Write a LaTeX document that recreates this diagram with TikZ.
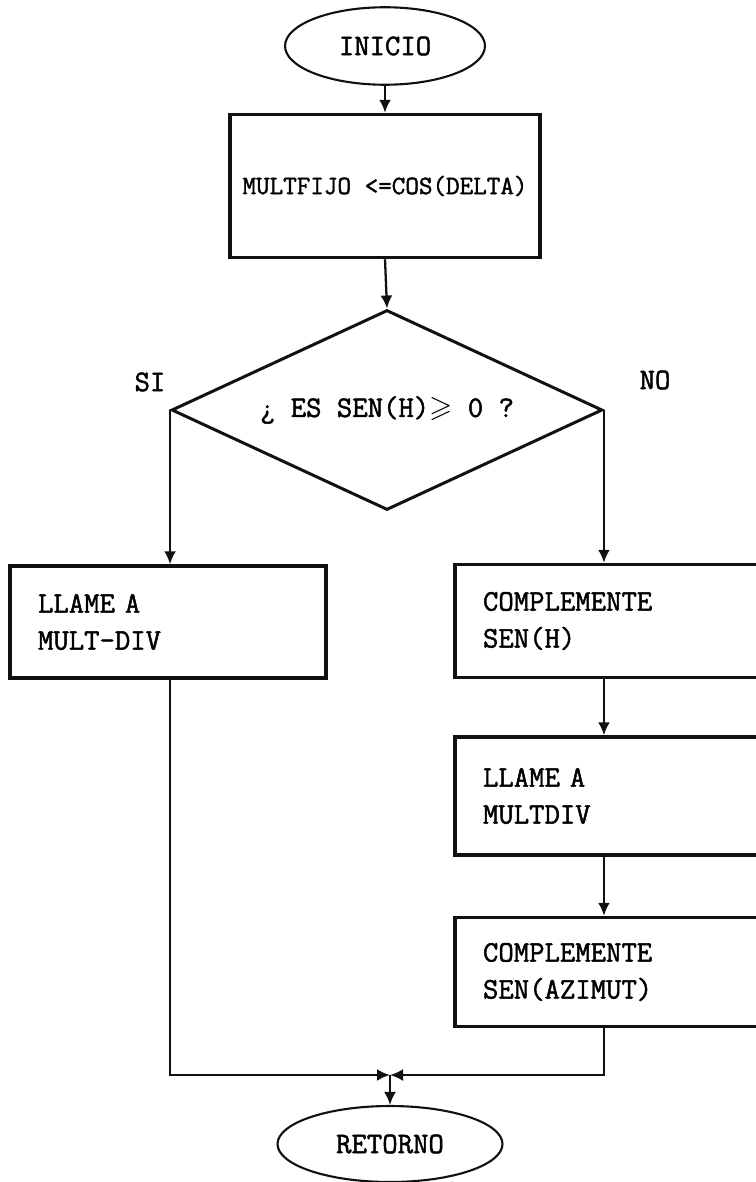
\documentclass[tikz,border=0pt]{standalone}
\usepackage{amssymb}
\usepackage{fontspec}
\setmonofont{Latin Modern Mono}[AutoFakeBold=1.6]
\usetikzlibrary{arrows.meta, shapes.geometric}
\definecolor{inkline}{HTML}{111111}
\newcommand{\tipo}[1]{\ttfamily\bfseries\fontsize{#1}{21}\selectfont}
\tikzset{
  terminal/.style={ellipse, draw=inkline, line width=1.2pt, minimum width=4cm, minimum height=1.55cm, font=\tipo{17}},
  proceso/.style={rectangle, draw=inkline, line width=2pt, align=left, inner xsep=0.56cm, font=\tipo{17}},
  decision/.style={diamond, aspect=2.155, draw=inkline, line width=1.7pt, minimum width=8.62cm, minimum height=4cm, inner sep=0pt, font=\tipo{17}},
  flow/.style={-{Latex[length=2.6mm, width=2.4mm]}, line width=1.3pt, draw=inkline},
  rama/.style={font=\tipo{17}}
}

\begin{document}
\begin{tikzpicture}[x=0.02cm, y=-0.02cm]
\useasboundingbox (0,0) rectangle (755,1182);

\node[terminal] (inicio) at (385,46) {INICIO};
\node[proceso, align=center, inner xsep=2pt, minimum width=6.2cm, minimum height=2.86cm, font=\tipo{15}] (multfijo) at (385,186) {MULTFIJO <=COS(DELTA)};

\node[decision] (signo) at (387,410) {¿ ES SEN(H)$\geqslant$ 0 ?};
\node[rama] (si) at (150,382) {SI};
\node[rama] (no) at (655,380) {NO};

\node[proceso, text width=5.2cm, minimum height=2.24cm] (llamea) at (168,622) {LLAME A\\MULT-DIV};

\node[proceso, text width=5.28cm, minimum height=2.26cm] (compsen) at (615,621) {COMPLEMENTE\\SEN(H)};
\node[proceso, text width=5.28cm, minimum height=2.36cm] (llameb) at (615,796) {LLAME A\\MULTDIV};
\node[proceso, text width=5.28cm, minimum height=2.18cm] (compaz) at (615,972) {COMPLEMENTE\\SEN(AZIMUT)};

\coordinate (junta) at (390,1075);
\node[terminal, minimum width=4.5cm, minimum height=1.52cm] (retorno) at (390,1144) {RETORNO};

\draw[flow] (inicio) -- (multfijo);
\draw[flow] (multfijo.south) -- (signo.north);
\draw[flow] (signo.west) -- (signo.west |- llamea.north);
\draw[flow] (signo.east) -- (signo.east |- compsen.north);
\draw[flow] (signo.east |- compsen.south) -- (signo.east |- llameb.north);
\draw[flow] (signo.east |- llameb.south) -- (signo.east |- compaz.north);
\draw[flow] (signo.west |- llamea.south) |- (junta);
\draw[flow] (signo.east |- compaz.south) |- (junta);
\draw[flow] (junta) -- (retorno);

\end{tikzpicture}
\end{document}
